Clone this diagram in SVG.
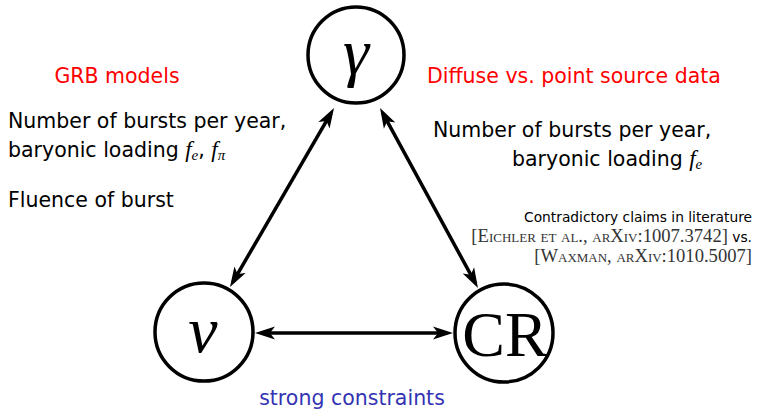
<svg xmlns="http://www.w3.org/2000/svg" width="757" height="411" viewBox="0 0 757 411">
<style>
.node{fill:#fff;stroke:#000;stroke-width:3.5}
.edge{stroke:#000;stroke-width:3.5;fill:none;marker-start:url(#arr);marker-end:url(#arr)}
.sans{font-family:"DejaVu Sans","Liberation Sans",sans-serif;font-size:20.5px;fill:#000}
.red{fill:#ff0000}
.blue{fill:#3333b3}
.math{font-family:"Liberation Serif",serif;font-style:italic}
.small{font-size:13.8px}
.sc{font-family:"Liberation Serif",serif;font-variant:small-caps;font-size:18.6px;fill:#333}
</style>
<defs>
<marker id="arr" markerUnits="userSpaceOnUse" viewBox="-1 -8 23 16" markerWidth="23" markerHeight="16" refX="14" refY="0" orient="auto-start-reverse">
<path d="M0,-6.5 L20,0 L0,6.5 L5,0 Z" fill="#000"/>
</marker>
</defs>
<g id="connectors">
<line class="edge" x1="331" y1="113.2" x2="233" y2="281.8"/>
<line class="edge" x1="382.9" y1="113.3" x2="475.1" y2="282.7"/>
<line class="edge" x1="261" y1="333" x2="447" y2="333"/>
</g>
<g id="node-gamma">
<circle class="node" cx="356" cy="55" r="48"/>
<text x="356" y="74" text-anchor="middle" font-family="Liberation Serif, serif" font-style="italic" font-size="66">γ</text>
</g>
<g id="node-nu">
<circle class="node" cx="204" cy="332" r="49"/>
<text x="203" y="352" text-anchor="middle" font-family="Liberation Serif, serif" font-style="italic" font-size="66">ν</text>
</g>
<g id="node-cr">
<circle class="node" cx="504" cy="333" r="49"/>
<text x="505" y="356" text-anchor="middle" font-family="Liberation Serif, serif" font-size="64">CR</text>
</g>
<g id="labels">
<text class="sans red" x="117" y="83" text-anchor="middle">GRB models</text>
<text class="sans red" x="427" y="83">Diffuse vs. point source data</text>
<text class="sans" x="8" y="128">Number of bursts per year,</text>
<text class="sans" x="8" y="157">baryonic loading <tspan class="math" font-size="23">f</tspan><tspan class="math" font-size="15" dy="3">e</tspan><tspan dy="-3">, </tspan><tspan class="math" font-size="23">f</tspan><tspan class="math" font-size="15" dy="3">π</tspan></text>
<text class="sans" x="8" y="207">Fluence of burst</text>
<text class="sans" x="433" y="137">Number of bursts per year,</text>
<text class="sans" x="512" y="166">baryonic loading <tspan class="math" font-size="23">f</tspan><tspan class="math" font-size="15" dy="3">e</tspan></text>
<text class="sans small" x="752" y="222" text-anchor="end">Contradictory claims in literature</text>
<text x="752" y="242" text-anchor="end"><tspan class="sc">[Eichler et al., arXiv:1007.3742]</tspan><tspan class="sans small"> vs.</tspan></text>
<text class="sc" x="752" y="262" text-anchor="end">[Waxman, arXiv:1010.5007]</text>
<text class="sans blue" x="352" y="405" text-anchor="middle">strong constraints</text>
</g>
</svg>
